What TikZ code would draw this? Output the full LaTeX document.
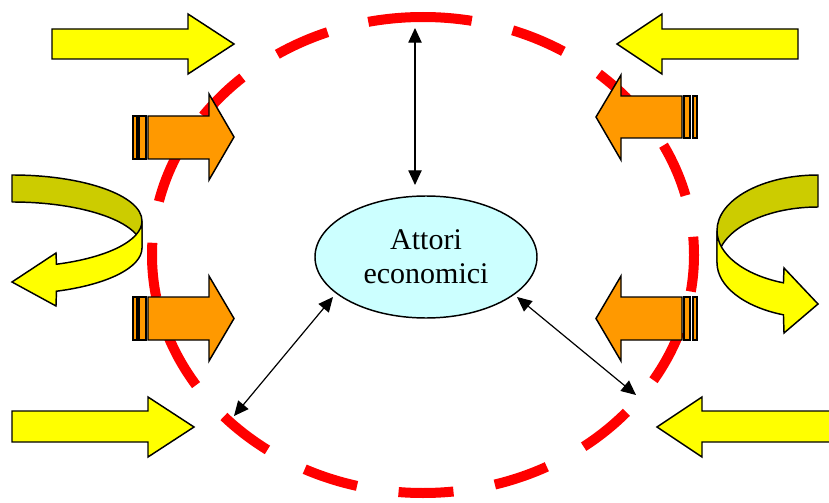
\documentclass[tikz,border=0pt]{standalone}
\usepackage{fontspec}
\setmainfont{Liberation Serif}
\usetikzlibrary{arrows.meta,shapes.geometric}
\definecolor{ayellow}{HTML}{FFFF00}
\definecolor{aorange}{HTML}{FF9900}
\definecolor{aolive}{HTML}{CCCC00}
\definecolor{acyan}{HTML}{CCFFFF}
\definecolor{ared}{HTML}{FF0000}
\tikzset{
  ybox/.style={fill=ayellow, draw=black, line width=1.1pt, line join=miter},
  obox/.style={fill=aorange, draw=black, line width=1.1pt, line join=miter},
  olbox/.style={fill=aolive, draw=black, line width=1.1pt, line join=round},
  reddash/.style={draw=ared, line width=7.5pt, dash pattern=on 41.25pt off 31.5pt},
  conn/.style={draw=black, line width=0.9pt, {Triangle[length=11pt,width=10pt]}-{Triangle[length=11pt,width=10pt]}},
  actor/.style={ellipse, draw=black, line width=1.1pt, fill=acyan, minimum width=166.5pt, minimum height=91.5pt, inner sep=0pt, align=center, font=\fontsize{22.5}{25.5}\selectfont}
}
\begin{document}
\begin{tikzpicture}[x=0.75pt,y=-0.75pt]
\clip (0,0) rectangle (829,503);
\fill[white] (0,0) rectangle (829,503);
% dashed red ellipse
\draw[reddash] (423,17) arc[start angle=-90, end angle=-450, x radius=271, y radius=238];
% straight yellow arrows
\draw[ybox] (52,29) -- (188,29) -- (188,14) -- (234,44) -- (188,74) -- (188,59) -- (52,59) -- cycle;
\draw[ybox] (798,29) -- (662,29) -- (662,14) -- (617,44) -- (662,74) -- (662,59) -- (798,59) -- cycle;
\draw[ybox] (12,411) -- (148,411) -- (148,397) -- (194,427) -- (148,457) -- (148,442) -- (12,442) -- cycle;
\draw[ybox] (840,411) -- (702,411) -- (702,397) -- (657,427) -- (702,457) -- (702,442) -- (840,442) -- cycle;
% striped orange arrows
\draw[obox] (148,116) -- (209,116) -- (209,94) -- (234,137) -- (209,180) -- (209,159) -- (148,159) -- cycle;
\draw[obox] (133,116) rectangle (137,159);
\draw[obox] (139,116) rectangle (146,159);
\draw[obox] (148,297) -- (209,297) -- (209,276) -- (234,318.5) -- (209,361) -- (209,340) -- (148,340) -- cycle;
\draw[obox] (133,297) rectangle (137,340);
\draw[obox] (139,297) rectangle (146,340);
\draw[obox] (682,96) -- (621,96) -- (621,75) -- (596,117) -- (621,160) -- (621,138) -- (682,138) -- cycle;
\draw[obox] (684,96) rectangle (690,138);
\draw[obox] (693,96) rectangle (697,138);
\draw[obox] (682,297) -- (621,297) -- (621,276) -- (596,318.5) -- (621,361) -- (621,340) -- (682,340) -- cycle;
\draw[obox] (684,297) rectangle (690,340);
\draw[obox] (693,297) rectangle (697,340);
% left U-turn arrow
\draw[olbox] (12,175) arc[start angle=-90, end angle=0, x radius=130, y radius=46] -- (142,248)
  arc[start angle=0, end angle=-90, x radius=130, y radius=46] -- cycle;
\draw[ybox] (142,221) arc[start angle=0, end angle=70, x radius=130, y radius=46] -- (56,253) -- (12,282) -- (56,306) -- (56.46,291.23)
  arc[start angle=70, end angle=0, x radius=130, y radius=46] -- cycle;
% right U-turn arrow
\draw[olbox] (818,175) arc[start angle=270, end angle=180, x radius=101, y radius=55.6] -- (717,262.6)
  arc[start angle=180, end angle=270, x radius=101, y radius=55.6] -- cycle;
\draw[ybox] (717,230.6) arc[start angle=180, end angle=110, x radius=101, y radius=55.6] -- (784,268) -- (818,304) -- (784,333) -- (783.46,314.85)
  arc[start angle=110, end angle=180, x radius=101, y radius=55.6] -- cycle;
% central node
\node[actor] (actors) at (426,257) {Attori\\economici};
% connectors
\coordinate (topend) at (415,28);
\coordinate (topin) at (415,185);
\coordinate (blend) at (234,416);
\coordinate (blin) at (333,297);
\coordinate (brend) at (636,395);
\coordinate (brin) at (517,297);
\draw[conn] (topin) -- (topend);
\draw[conn] (blin) -- (blend);
\draw[conn] (brin) -- (brend);
\end{tikzpicture}
\end{document}
